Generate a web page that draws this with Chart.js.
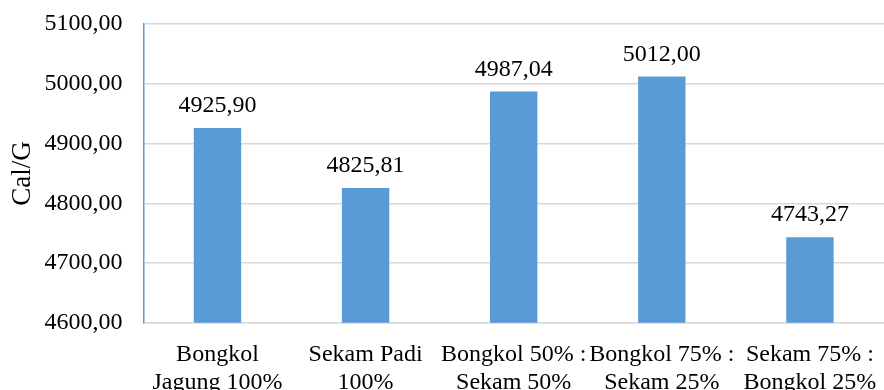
<!DOCTYPE html>
<html>
<head>
<meta charset="utf-8">
<script src="https://cdn.jsdelivr.net/npm/chart.js@4/dist/chart.umd.min.js"></script>
<style>
  html, body { margin: 0; padding: 0; background: #fff; overflow: hidden; height: 390px; }
  #wrap { width: 884px; height: 397px; }
</style>
</head>
<body>
<div id="wrap"><canvas id="myChart"></canvas></div>
<script>
var categories = [
    ['Bongkol', 'Jagung 100%'],
    ['Sekam Padi', '100%'],
    ['Bongkol 50% :', 'Sekam 50%'],
    ['Bongkol 75% :', 'Sekam 25%'],
    ['Sekam 75% :', 'Bongkol 25%']
];
var calories = [4925.90, 4825.81, 4987.04, 5012.00, 4743.27];
var yTicks = [4600, 4700, 4800, 4900, 5000, 5100];

function fmt(v) {
    return v.toFixed(2).replace('.', ',');
}

// draws the value above each bar
var valueLabels = {
    id: 'valueLabels',
    afterDatasetsDraw: function (chart) {
        var c = chart.ctx;
        var meta = chart.getDatasetMeta(0);
        c.save();
        c.font = '24px "Liberation Serif"';
        c.fillStyle = '#000';
        c.textAlign = 'center';
        c.textBaseline = 'alphabetic';
        meta.data.forEach(function (bar, i) {
            c.fillText(fmt(chart.data.datasets[0].data[i]), bar.x, bar.y - 16);
        });
        c.restore();
    }
};

// no extra room for half labels at the ends of the axes,
// and count the tick padding only once
function trimAxis(scale) {
    scale.paddingLeft = 0;
    scale.paddingRight = 0;
    scale.paddingTop = 0;
    scale.paddingBottom = 0;
    var pad = scale.options.ticks.padding;
    if (scale.isHorizontal()) {
        scale.height -= pad;
    } else {
        scale.width -= pad;
    }
}

var ctx = document.getElementById('myChart').getContext('2d');
var myChart = new Chart(ctx, {
    type: 'bar',
    data: {
        labels: categories,
        datasets: [{
            data: calories,
            backgroundColor: '#5B9BD5',
            categoryPercentage: 1,
            barPercentage: 0.32
        }]
    },
    options: {
        responsive: true,
        maintainAspectRatio: false,
        animation: false,
        layout: { padding: { left: 2, top: 24, right: 0, bottom: 0 } },
        plugins: {
            legend: { display: false },
            tooltip: { enabled: false }
        },
        scales: {
            x: {
                afterFit: trimAxis,
                grid: { display: false, drawTicks: false },
                border: { color: '#D9D9D9', width: 1.5 },
                ticks: {
                    color: '#000',
                    padding: 18,
                    maxRotation: 0,
                    autoSkip: false,
                    font: { family: 'Liberation Serif', size: 24, lineHeight: 1.17 }
                }
            },
            y: {
                min: 4600,
                max: 5100,
                afterFit: trimAxis,
                afterBuildTicks: function (axis) {
                    axis.ticks = yTicks.map(function (v) { return { value: v }; });
                },
                grid: { color: '#D9D9D9', lineWidth: 1.5, drawTicks: false },
                border: { color: '#5B9BD5', width: 1.5 },
                ticks: {
                    color: '#000',
                    padding: 21,
                    font: { family: 'Liberation Serif', size: 24 },
                    callback: function (v) { return fmt(v); }
                },
                title: {
                    display: true,
                    text: 'Cal/G',
                    color: '#000',
                    padding: 5,
                    font: { family: 'Liberation Serif', size: 27 }
                }
            }
        }
    },
    plugins: [valueLabels]
});
</script>
</body>
</html>
